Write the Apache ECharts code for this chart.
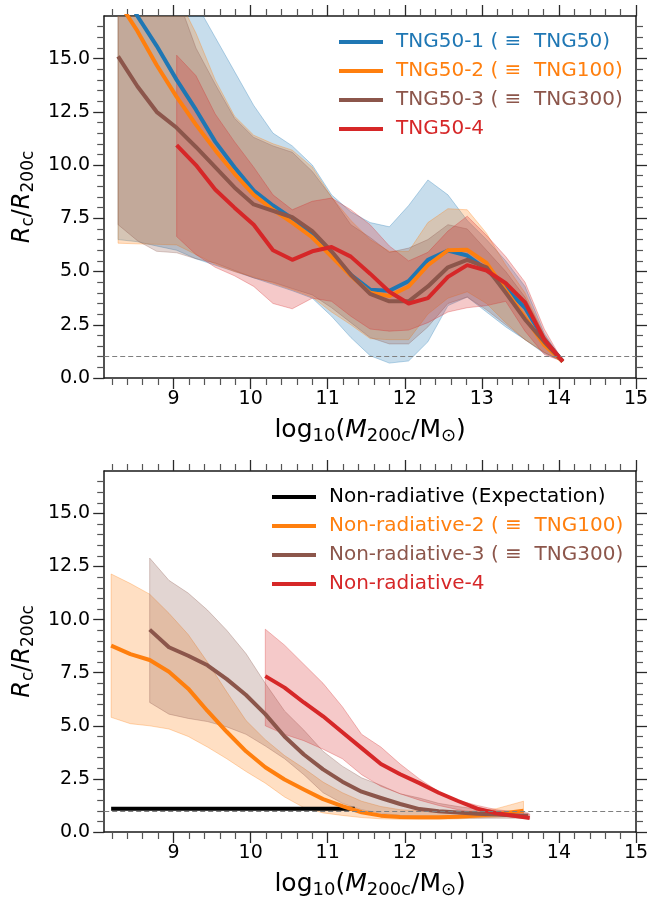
<!DOCTYPE html>
<html>
<head>
<meta charset="utf-8">
<script src="https://cdn.jsdelivr.net/npm/echarts@6/dist/echarts.min.js"></script>
<style>
  html, body { margin: 0; padding: 0; background: #ffffff; }
  #chart { width: 669px; height: 900px; }
</style>
</head>
<body>
<div id="chart"></div>
<script>
// ---- Upper panel: full-physics TNG50 resolution series ----
const massTop = [8.28, 8.53, 8.78, 9.04, 9.29, 9.54, 9.79, 10.04, 10.29, 10.54, 10.80, 11.05,
                 11.30, 11.55, 11.80, 12.05, 12.30, 12.56, 12.81, 13.06, 13.31, 13.56, 13.81, 14.05];
const massTop4 = [9.04, 9.29, 9.54, 9.79, 10.04, 10.29, 10.54, 10.80, 11.05, 11.30, 11.55,
                  11.80, 12.05, 12.30, 12.56, 12.81, 13.06, 13.31, 13.56, 13.81, 14.05];

const tng1Med = [18.6, 17.0, 15.6, 14.0, 12.6, 11.1, 9.9, 8.8, 8.1, 7.5, 6.8, 5.8,
                 4.85, 4.15, 4.1, 4.55, 5.55, 5.98, 5.75, 5.1, 4.2, 3.3, 1.8, 0.78];
const tng1Hi  = [21, 21, 20, 19, 17.6, 16.0, 14.4, 12.8, 11.5, 10.9, 10.0, 8.6,
                 7.8, 7.3, 7.1, 8.1, 9.3, 8.6, 7.4, 6.5, 5.5, 4.3, 2.1, 0.78];
const tng1Lo  = [6.5, 6.4, 6.2, 6.0, 5.6, 5.3, 5.0, 4.7, 4.4, 4.1, 3.75, 2.9,
                 1.9, 1.05, 0.7, 0.8, 1.7, 3.4, 3.8, 3.1, 2.4, 1.8, 1.15, 0.78];

const tng2Med = [17.7, 16.3, 14.7, 13.2, 11.9, 10.7, 9.6, 8.6, 7.9, 7.3, 6.6, 5.7,
                 4.8, 4.0, 3.85, 4.3, 5.3, 6.0, 6.02, 5.4, 4.1, 2.85, 1.55, 0.78];
const tng2Hi  = [20, 20, 19, 18, 16.2, 14.0, 12.3, 11.4, 11.0, 10.7, 9.9, 8.5,
                 7.4, 6.5, 5.95, 5.95, 7.3, 7.95, 7.9, 6.8, 5.3, 4.0, 2.0, 0.78];
const tng2Lo  = [6.33, 6.3, 6.28, 6.25, 5.8, 5.35, 5.0, 4.75, 4.45, 4.15, 3.8, 3.1,
                 2.5, 1.85, 1.8, 1.8, 3.0, 3.75, 4.05, 3.5, 2.6, 1.8, 1.2, 0.78];

const tng3Med = [15.1, 13.7, 12.5, 11.75, 10.85, 9.9, 8.95, 8.15, 7.85, 7.55, 6.9, 5.95,
                 4.85, 3.95, 3.6, 3.6, 4.3, 5.2, 5.55, 5.2, 4.0, 2.75, 1.7, 0.78];
const tng3Hi  = [19, 19, 18.5, 18, 15.5, 13.8, 12.2, 11.3, 10.9, 10.6, 9.7, 8.5,
                 7.2, 6.6, 5.9, 6.1, 6.5, 7.2, 7.0, 6.0, 5.0, 3.8, 2.0, 0.78];
const tng3Lo  = [7.2, 6.45, 5.95, 5.88, 5.6, 5.4, 5.05, 4.7, 4.5, 4.2, 3.9, 3.3,
                 2.6, 1.9, 1.6, 1.6, 2.4, 3.5, 3.8, 3.2, 2.5, 1.8, 1.2, 0.78];

const tng4Med = [10.94, 10.0, 8.85, 8.0, 7.2, 6.0, 5.55, 5.95, 6.15, 5.7, 4.9,
                 4.05, 3.5, 3.75, 4.75, 5.3, 5.05, 4.45, 3.55, 1.8, 0.78];
const tng4Hi  = [15.16, 14.2, 12.4, 11.1, 9.9, 8.6, 7.9, 8.3, 8.45, 7.9, 7.2,
                 6.2, 5.5, 5.9, 6.9, 7.6, 6.7, 5.7, 4.5, 2.3, 0.78];
const tng4Lo  = [6.64, 5.8, 5.2, 4.8, 4.3, 3.5, 3.25, 3.75, 3.6, 2.9, 2.3,
                 2.2, 2.25, 2.6, 3.1, 3.3, 3.4, 3.6, 2.2, 1.1, 0.78];

// ---- Lower panel: non-radiative runs ----
const massExp = [8.19, 11.35];
const expMed  = [1.1, 1.1];

const massNR2 = [8.19, 8.44, 8.69, 8.94, 9.19, 9.44, 9.69, 9.94, 10.19, 10.44, 10.69,
                 10.94, 11.19, 11.44, 11.69, 11.94, 12.19, 12.44, 12.69, 12.94, 13.19, 13.54];
const nr2Med = [8.78, 8.38, 8.1, 7.55, 6.75, 5.7, 4.72, 3.8, 3.05, 2.47, 2.0,
                1.55, 1.22, 0.93, 0.77, 0.71, 0.70, 0.70, 0.72, 0.78, 0.84, 1.0];
const nr2Hi  = [12.15, 11.7, 11.2, 10.3, 9.3, 8.0, 6.6, 5.25, 4.35, 3.6, 3.0,
                2.35, 1.85, 1.45, 1.2, 1.05, 1.0, 0.95, 0.95, 1.0, 1.1, 1.45];
const nr2Lo  = [5.4, 5.1, 5.0, 4.85, 4.5, 4.0, 3.45, 2.85, 2.3, 1.65, 1.15,
                0.9, 0.78, 0.68, 0.62, 0.6, 0.6, 0.6, 0.62, 0.66, 0.7, 0.75];

const massNR3 = [8.69, 8.94, 9.19, 9.44, 9.69, 9.94, 10.19, 10.44, 10.69, 10.94, 11.19,
                 11.44, 11.69, 11.94, 12.19, 12.44, 12.69, 12.94, 13.19, 13.44, 13.6];
const nr3Med = [9.53, 8.7, 8.3, 7.85, 7.2, 6.45, 5.55, 4.5, 3.65, 2.95, 2.37,
                1.9, 1.6, 1.32, 1.08, 0.98, 0.92, 0.86, 0.82, 0.78, 0.75];
const nr3Hi  = [12.9, 11.85, 11.25, 10.45, 9.5, 8.4, 7.0, 5.7, 4.8, 3.8, 3.1,
                2.55, 2.2, 1.8, 1.6, 1.35, 1.2, 1.08, 1.0, 0.95, 0.9];
const nr3Lo  = [6.1, 5.55, 5.35, 5.2, 4.95, 4.6, 4.05, 3.45, 2.7, 1.85, 1.35,
                1.05, 0.88, 0.78, 0.72, 0.68, 0.66, 0.65, 0.65, 0.65, 0.65];

const massNR4 = [10.19, 10.44, 10.69, 10.94, 11.19, 11.44, 11.69, 11.94, 12.19, 12.44,
                 12.69, 12.94, 13.19, 13.44, 13.62];
const nr4Med = [7.34, 6.8, 6.1, 5.45, 4.7, 3.95, 3.2, 2.72, 2.3, 1.85, 1.46, 1.1, 0.88, 0.75, 0.66];
const nr4Hi  = [9.55, 8.8, 7.9, 7.0, 5.9, 4.6, 4.0, 3.2, 2.5, 1.9, 1.5, 1.25, 1.05, 0.95, 0.85];
const nr4Lo  = [5.0, 4.6, 4.3, 3.9, 3.45, 2.7, 2.15, 1.8, 1.5, 1.25, 1.05, 0.9, 0.78, 0.68, 0.62];

// ---- Axis ticks ----
const xTicks = [9, 10, 11, 12, 13, 14, 15];
const yTicks = [0, 2.5, 5, 7.5, 10, 12.5, 15];
const refRatio = 1;

const FONT = 'DejaVu Sans';
const COL = { blue: '#1f77b4', orange: '#ff7f0e', brown: '#8c564b', red: '#d62728', black: '#000000' };

function rgba(hex, a) {
  const n = parseInt(hex.slice(1), 16);
  return 'rgba(' + ((n >> 16) & 255) + ',' + ((n >> 8) & 255) + ',' + (n & 255) + ',' + a + ')';
}
function pairs(xs, ys) { return xs.map((x, i) => [x, ys[i]]); }

// shaded percentile band between lo and hi
function band(g, xs, lo, hi, color) {
  return {
    type: 'custom', xAxisIndex: g * 2, yAxisIndex: g * 2, clip: true, silent: true, z: 2,
    data: [[xs[0], lo[0]]],
    renderItem: function (params, api) {
      const pts = [];
      for (let i = 0; i < xs.length; i++) pts.push(api.coord([xs[i], hi[i]]));
      for (let i = xs.length - 1; i >= 0; i--) pts.push(api.coord([xs[i], lo[i]]));
      return {
        type: 'polygon', shape: { points: pts },
        style: { fill: rgba(color, 0.25), stroke: rgba(color, 0.3), lineWidth: 1 }
      };
    }
  };
}
function medLine(g, name, xs, ys, color) {
  return {
    type: 'line', name: name, xAxisIndex: g * 2, yAxisIndex: g * 2,
    data: pairs(xs, ys), showSymbol: false, symbol: 'none', clip: true, z: 4,
    color: color, itemStyle: { color: color },
    lineStyle: { width: 4, color: color, cap: 'butt', join: 'round' },
    emphasis: { disabled: true }, silent: true
  };
}
function refLine(g) {
  return {
    type: 'line', xAxisIndex: g * 2, yAxisIndex: g * 2, data: [], z: 1, silent: true,
    markLine: {
      silent: true, symbol: ['none', 'none'], label: { show: false }, animation: false,
      lineStyle: { color: '#7f7f7f', type: [5, 3], width: 1.2 },
      data: [{ yAxis: refRatio }]
    }
  };
}

const axisLineStyle = { show: true, onZero: false, lineStyle: { color: '#1a1a1a', width: 1.5 } };
const tickStyle = { color: '#2a2a2a', width: 1.3 };
const minorStyle = { color: '#555555', width: 1.2 };
const labelStyle = { fontSize: 19, fontFamily: FONT, color: '#000000' };

function makeRich(big, small, drop) {
  return {
    n: { fontSize: big, fontFamily: FONT, color: '#000', lineHeight: big + 2, verticalAlign: 'top' },
    it: { fontSize: big, fontFamily: FONT, fontStyle: 'italic', color: '#000', lineHeight: big + 2, verticalAlign: 'top' },
    sub: { fontSize: small, fontFamily: FONT, color: '#000', lineHeight: small, padding: [drop, 0, 0, 0], verticalAlign: 'bottom' }
  };
}
const xName = '{n|log}{sub|10}{n|(}{it|M}{sub|200c}{n|/M}{sub|⊙}{n|)}';
const yName = '{it|R}{sub|c}{n|/}{it|R}{sub|200c}';

function xAxes(g) {
  const common = {
    type: 'value', gridIndex: g, min: 8.1, max: 15, splitNumber: 7,
    splitLine: { show: false }, axisLine: axisLineStyle,
    axisTick: { show: true, inside: false, length: 11, customValues: xTicks, lineStyle: tickStyle },
    minorTick: { show: true, splitNumber: 5, length: 7, lineStyle: minorStyle },
    minorSplitLine: { show: false }
  };
  return [
    Object.assign({}, common, {
      position: 'bottom',
      axisLabel: Object.assign({ show: true, customValues: xTicks, margin: 12 }, labelStyle),
      name: xName, nameLocation: 'middle', nameGap: 40,
      nameTextStyle: { rich: makeRich(25, 18, 12) }
    }),
    Object.assign({}, common, { position: 'top', axisLabel: { show: false } })
  ];
}
function yAxes(g) {
  const common = {
    type: 'value', gridIndex: g, min: 0, max: 17, interval: 2.5,
    splitLine: { show: false }, axisLine: axisLineStyle,
    axisTick: { show: true, inside: false, length: 11, customValues: yTicks, lineStyle: tickStyle },
    minorTick: { show: true, splitNumber: 5, length: 7, lineStyle: minorStyle },
    minorSplitLine: { show: false }
  };
  return [
    Object.assign({}, common, {
      position: 'left',
      axisLabel: Object.assign({ show: true, customValues: yTicks, margin: 14,
        formatter: v => v.toFixed(1) }, labelStyle),
      name: yName, nameLocation: 'middle', nameRotate: 90, nameGap: 56,
      nameTextStyle: { rich: makeRich(24, 17, 12) }
    }),
    Object.assign({}, common, { position: 'right', axisLabel: { show: false } })
  ];
}

const topNames = ['TNG50-1 ( ≡  TNG50)', 'TNG50-2 ( ≡  TNG100)', 'TNG50-3 ( ≡  TNG300)', 'TNG50-4'];
const botNames = ['Non-radiative (Expectation)', 'Non-radiative-2 ( ≡  TNG100)', 'Non-radiative-3 ( ≡  TNG300)', 'Non-radiative-4'];
const topCols = [COL.blue, COL.orange, COL.brown, COL.red];
const botCols = [COL.black, COL.orange, COL.brown, COL.red];

function legend(left, top, names, cols) {
  return {
    left: left, top: top, orient: 'vertical', padding: 0, itemGap: 7,
    itemWidth: 44, itemHeight: 4, icon: 'rect', selectedMode: false,
    itemStyle: { borderWidth: 0 },
    textStyle: { fontSize: 20, fontFamily: FONT, lineHeight: 22, padding: [0, 0, 0, 8] },
    data: names.map((n, i) => ({ name: n, textStyle: { color: cols[i] } }))
  };
}

const option = {
  animation: false,
  backgroundColor: '#ffffff',
  grid: [
    { left: 104, top: 16, width: 532, height: 362 },
    { left: 104, top: 471, width: 532, height: 362 }
  ],
  xAxis: xAxes(0).concat(xAxes(1)),
  yAxis: yAxes(0).concat(yAxes(1)),
  legend: [legend(339, 31, topNames, topCols), legend(272, 486, botNames, botCols)],
  series: [
    refLine(0),
    band(0, massTop, tng1Lo, tng1Hi, COL.blue),
    band(0, massTop, tng2Lo, tng2Hi, COL.orange),
    band(0, massTop, tng3Lo, tng3Hi, COL.brown),
    band(0, massTop4, tng4Lo, tng4Hi, COL.red),
    medLine(0, topNames[0], massTop, tng1Med, COL.blue),
    medLine(0, topNames[1], massTop, tng2Med, COL.orange),
    medLine(0, topNames[2], massTop, tng3Med, COL.brown),
    medLine(0, topNames[3], massTop4, tng4Med, COL.red),

    refLine(1),
    band(1, massNR2, nr2Lo, nr2Hi, COL.orange),
    band(1, massNR3, nr3Lo, nr3Hi, COL.brown),
    band(1, massNR4, nr4Lo, nr4Hi, COL.red),
    medLine(1, botNames[0], massExp, expMed, COL.black),
    medLine(1, botNames[1], massNR2, nr2Med, COL.orange),
    medLine(1, botNames[2], massNR3, nr3Med, COL.brown),
    medLine(1, botNames[3], massNR4, nr4Med, COL.red)
  ]
};

const chart = echarts.init(document.getElementById('chart'), null, { renderer: 'canvas' });
chart.setOption(option);
</script>
</body>
</html>
